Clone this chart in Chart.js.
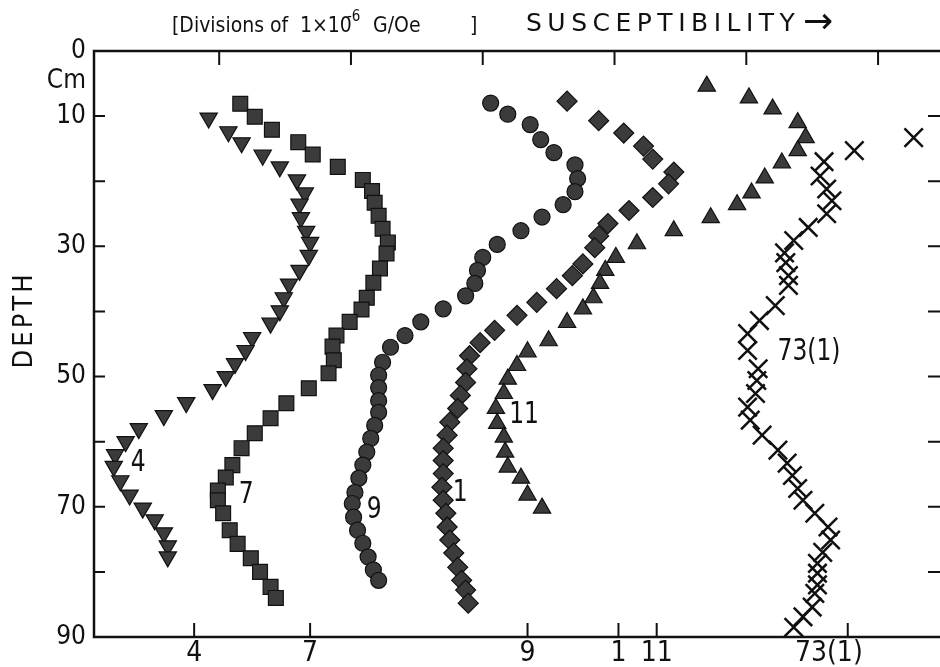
<!DOCTYPE html>
<html>
<head>
<meta charset="utf-8">
<title>Susceptibility vs depth</title>
<script src="https://cdn.jsdelivr.net/npm/chart.js@4.4.1/dist/chart.umd.min.js"></script>
<style>
  html, body { margin: 0; padding: 0; background: #fff; overflow: hidden; }
  #wrap { width: 940px; height: 667px; position: relative; }
</style>
</head>
<body>
<div id="wrap"><canvas id="depthChart"></canvas></div>
<script>
// x in chart divisions (one top tick = one division), depth in cm
const core4X = [0.92, 1.07, 1.17, 1.33, 1.46, 1.59, 1.65, 1.61, 1.62, 1.66, 1.69, 1.68, 1.61, 1.53, 1.49, 1.46, 1.39, 1.25, 1.20, 1.12, 1.05, 0.95, 0.75, 0.58, 0.39, 0.29, 0.21, 0.20, 0.25, 0.32, 0.42, 0.51, 0.58, 0.61, 0.61];
const core4Depth = [10.3, 12.4, 14.1, 16.0, 17.8, 19.8, 21.8, 23.5, 25.6, 27.7, 29.4, 31.4, 33.7, 35.8, 37.9, 39.9, 41.8, 44.0, 46.0, 48.0, 50.0, 52.0, 54.0, 56.0, 58.0, 60.0, 62.0, 63.8, 66.0, 68.2, 70.2, 72.0, 74.0, 76.0, 77.7];

const core7X = [1.16, 1.27, 1.40, 1.60, 1.71, 1.90, 2.09, 2.16, 2.18, 2.21, 2.24, 2.28, 2.27, 2.22, 2.17, 2.12, 2.08, 1.99, 1.89, 1.86, 1.87, 1.83, 1.68, 1.51, 1.39, 1.27, 1.17, 1.10, 1.05, 0.99, 0.99, 1.03, 1.08, 1.14, 1.24, 1.31, 1.39, 1.43];
const core7Depth = [8.1, 10.1, 12.1, 14.0, 15.9, 17.8, 19.8, 21.5, 23.3, 25.3, 27.3, 29.4, 31.1, 33.4, 35.6, 37.9, 39.7, 41.6, 43.7, 45.4, 47.5, 49.5, 51.8, 54.1, 56.4, 58.7, 61.0, 63.6, 65.5, 67.5, 69.0, 71.0, 73.6, 75.7, 77.9, 80.0, 82.3, 84.0];

const core9X = [3.06, 3.19, 3.36, 3.44, 3.54, 3.70, 3.72, 3.70, 3.61, 3.45, 3.29, 3.11, 3.00, 2.96, 2.94, 2.87, 2.70, 2.53, 2.41, 2.30, 2.24, 2.21, 2.21, 2.21, 2.21, 2.18, 2.15, 2.12, 2.09, 2.06, 2.03, 2.01, 2.02, 2.05, 2.09, 2.13, 2.17, 2.21];
const core9Depth = [8.0, 9.7, 11.3, 13.6, 15.6, 17.5, 19.6, 21.6, 23.6, 25.5, 27.6, 29.7, 31.7, 33.7, 35.7, 37.6, 39.6, 41.6, 43.7, 45.5, 47.8, 49.8, 51.7, 53.7, 55.5, 57.5, 59.5, 61.6, 63.6, 65.6, 67.8, 69.5, 71.6, 73.6, 75.6, 77.7, 79.7, 81.3];

const core1X = [3.64, 3.88, 4.07, 4.22, 4.29, 4.45, 4.41, 4.29, 4.11, 3.95, 3.88, 3.85, 3.76, 3.68, 3.56, 3.41, 3.26, 3.09, 2.98, 2.90, 2.88, 2.87, 2.83, 2.81, 2.75, 2.73, 2.70, 2.70, 2.70, 2.69, 2.70, 2.72, 2.73, 2.75, 2.78, 2.81, 2.84, 2.87, 2.89];
const core1Depth = [7.7, 10.7, 12.6, 14.6, 16.6, 18.6, 20.4, 22.5, 24.5, 26.5, 28.4, 30.2, 32.7, 34.5, 36.5, 38.6, 40.6, 42.9, 44.8, 46.8, 48.8, 50.9, 52.9, 54.9, 57.0, 59.0, 61.0, 62.9, 64.9, 67.0, 69.0, 71.0, 73.1, 75.1, 77.1, 79.3, 81.3, 82.8, 84.8];

const core11X = [4.70, 5.02, 5.20, 5.39, 5.45, 5.39, 5.27, 5.14, 5.04, 4.93, 4.73, 4.45, 4.17, 4.01, 3.93, 3.89, 3.84, 3.76, 3.64, 3.50, 3.34, 3.26, 3.19, 3.16, 3.10, 3.11, 3.16, 3.17, 3.19, 3.29, 3.34, 3.45];
const core11Depth = [5.4, 7.2, 8.9, 11.0, 13.3, 15.3, 17.2, 19.5, 21.8, 23.6, 25.6, 27.6, 29.6, 31.7, 33.7, 35.7, 37.9, 39.6, 41.7, 44.5, 46.2, 48.3, 50.4, 52.6, 54.9, 57.2, 59.3, 61.6, 63.9, 65.6, 68.2, 70.2];

const core73X = [6.27, 5.82, 5.59, 5.56, 5.61, 5.65, 5.61, 5.47, 5.36, 5.29, 5.30, 5.32, 5.32, 5.22, 5.10, 5.01, 5.01, 5.09, 5.08, 5.07, 5.01, 5.03, 5.12, 5.24, 5.31, 5.35, 5.39, 5.43, 5.52, 5.62, 5.64, 5.58, 5.54, 5.54, 5.54, 5.52, 5.50, 5.43, 5.36];
const core73Depth = [13.3, 15.3, 17.0, 19.2, 21.2, 23.0, 25.0, 27.1, 29.1, 31.0, 32.5, 34.5, 36.0, 39.1, 41.4, 43.4, 46.0, 48.8, 50.6, 52.6, 54.7, 56.7, 59.0, 61.3, 63.3, 65.2, 67.2, 69.0, 71.0, 73.1, 75.1, 77.0, 78.7, 80.2, 82.0, 83.3, 85.4, 86.9, 88.5];

const seriesNames = ['4', '7', '9', '1', '11', '73(1)'];
const bottomTickValues = [0.81, 1.69, 3.34, 4.03, 4.32, 5.77];
const bottomTickLabels = ['4', '7', '9', '1', '11', '73(1)'];
const topTickValues = [1, 2, 3, 4, 5, 6];
const depthTicks = [0, 10, 20, 30, 40, 50, 60, 70, 80, 90];
const depthLabels = [0, 10, 30, 50, 70, 90];

const INK = '#111';
const FILL = '#3b3b3b';
const SANS = "'DejaVu Sans', sans-serif";
const COND = "'DejaVu Sans Condensed', 'DejaVu Sans', sans-serif";

// where each core's number is written next to its curve (x, depth)
const labelAnchors = [[0.385, 63.3], [1.205, 68.2], [2.176, 70.5], [2.829, 67.9], [3.314, 55.9], [5.476, 46.2]];

const toPoints = (xs, ds) => xs.map((v, i) => ({ x: v, y: ds[i] }));

const markerSet = (name, xs, ds, style) => Object.assign({
    label: name,
    data: toPoints(xs, ds),
    showLine: false,
    backgroundColor: FILL,
    borderColor: INK,
    borderWidth: 1.2,
    pointHoverRadius: 0
}, style);

const frame = {
    id: 'frame',
    afterDraw(chart) {
        const { ctx, chartArea: a } = chart;
        const x = chart.scales.x;
        const y = chart.scales.y;
        ctx.save();
        ctx.strokeStyle = INK;
        ctx.fillStyle = INK;

        ctx.lineWidth = 2.5;
        ctx.beginPath();
        ctx.moveTo(a.right, a.top);
        ctx.lineTo(a.left, a.top);
        ctx.lineTo(a.left, a.bottom);
        ctx.lineTo(a.right, a.bottom);
        ctx.stroke();

        ctx.lineWidth = 2;
        ctx.beginPath();
        depthTicks.slice(1, -1).forEach(v => {
            const py = y.getPixelForValue(v);
            ctx.moveTo(a.left, py);
            ctx.lineTo(a.left + 11, py);
            ctx.moveTo(a.right - 12, py);
            ctx.lineTo(a.right, py);
        });
        topTickValues.forEach(v => {
            const px = x.getPixelForValue(v);
            ctx.moveTo(px, a.top);
            ctx.lineTo(px, a.top + 14);
        });
        bottomTickValues.forEach(v => {
            const px = x.getPixelForValue(v);
            ctx.moveTo(px, a.bottom);
            ctx.lineTo(px, a.bottom - 14);
        });
        ctx.stroke();

        // unit under the 0 label
        ctx.font = '26px ' + COND;
        ctx.textAlign = 'right';
        ctx.textBaseline = 'alphabetic';
        ctx.fillText('Cm', a.left - 8, 88);

        // header
        ctx.textAlign = 'left';
        ctx.font = '21px ' + COND;
        ctx.fillText('[Divisions of', 172, 32);
        ctx.fillText('1\u00d710', 300, 32);
        ctx.fillText('G/Oe', 373, 32);
        ctx.fillText(']', 470, 32);
        ctx.font = '15px ' + COND;
        ctx.fillText('-6', 347, 21);

        ctx.font = '25px ' + SANS;
        ctx.letterSpacing = '5.5px';
        ctx.fillText('SUSCEPTIBILITY', 526, 31);
        ctx.letterSpacing = '0px';
        ctx.font = '36px ' + SANS;
        ctx.fillText('\u2192', 803, 33);

        // axis name
        ctx.save();
        ctx.translate(25, 320);
        ctx.rotate(-Math.PI / 2);
        ctx.font = '27px ' + COND;
        ctx.letterSpacing = '3px';
        ctx.textAlign = 'center';
        ctx.textBaseline = 'middle';
        ctx.fillText('DEPTH', 0, 0);
        ctx.restore();

        // core numbers beside the curves, drawn in a narrow face
        ctx.font = '31px ' + COND;
        ctx.textAlign = 'center';
        ctx.textBaseline = 'middle';
        seriesNames.forEach((name, i) => {
            const [lx, ld] = labelAnchors[i];
            ctx.save();
            ctx.translate(x.getPixelForValue(lx), y.getPixelForValue(ld));
            ctx.scale(0.84, 1);
            ctx.fillText(name, 0, 0);
            ctx.restore();
        });
        ctx.restore();
    }
};

new Chart(document.getElementById('depthChart'), {
    type: 'scatter',
    data: {
        datasets: [
            markerSet(seriesNames[0], core4X, core4Depth, { pointStyle: 'triangle', rotation: 180, pointRadius: 10 }),
            markerSet(seriesNames[1], core7X, core7Depth, { pointStyle: 'rect', pointRadius: 10.5 }),
            markerSet(seriesNames[2], core9X, core9Depth, { pointStyle: 'circle', pointRadius: 8 }),
            markerSet(seriesNames[3], core1X, core1Depth, { pointStyle: 'rectRot', pointRadius: 10 }),
            markerSet(seriesNames[4], core11X, core11Depth, { pointStyle: 'triangle', pointRadius: 10 }),
            markerSet(seriesNames[5], core73X, core73Depth, { pointStyle: 'crossRot', pointRadius: 13, borderWidth: 2.5 })
        ]
    },
    options: {
        responsive: true,
        maintainAspectRatio: false,
        animation: false,
        events: [],
        layout: { autoPadding: false, padding: { top: 51, right: 0, bottom: 0, left: 0 } },
        plugins: { legend: { display: false }, tooltip: { enabled: false } },
        scales: {
            x: {
                type: 'linear',
                position: 'bottom',
                min: 0.05,
                max: 6.47,
                afterBuildTicks: s => { s.ticks = bottomTickValues.map(v => ({ value: v })); },
                afterFit: s => {
                    s.height = 30;
                    s.paddingLeft = 0;
                    s.paddingRight = 0;
                },
                grid: { display: false, drawTicks: false },
                border: { display: false },
                ticks: {
                    autoSkip: false,
                    maxRotation: 0,
                    padding: 0,
                    color: INK,
                    font: { family: COND, size: 28 },
                    // the last label sits left of its tick in the original
                    callback: (v, i) => i === bottomTickLabels.length - 1
                        ? bottomTickLabels[i] + '\u2003\u2002'
                        : bottomTickLabels[i]
                }
            },
            y: {
                type: 'linear',
                reverse: true,
                min: 0,
                max: 90,
                afterBuildTicks: s => { s.ticks = depthTicks.map(v => ({ value: v })); },
                afterFit: s => {
                    s.width = 94;
                    s.paddingTop = 0;
                    s.paddingBottom = 0;
                },
                grid: { display: false, drawTicks: false },
                border: { display: false },
                ticks: {
                    padding: 8,
                    color: INK,
                    font: { family: COND, size: 26 },
                    callback: v => depthLabels.includes(v) ? String(v) : ''
                }
            }
        }
    },
    plugins: [frame]
});
</script>
</body>
</html>
